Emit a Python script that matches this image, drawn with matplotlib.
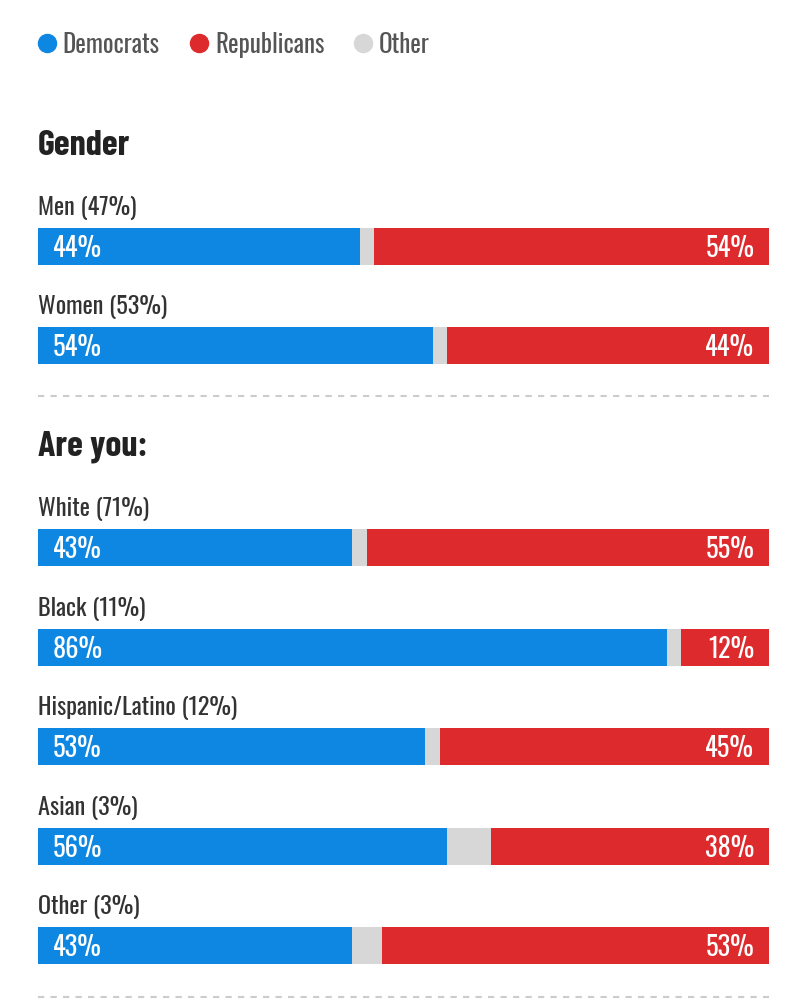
import matplotlib.pyplot as plt
from matplotlib import font_manager

# data
groups = ['Men (47%)', 'Women (53%)', 'White (71%)', 'Black (11%)',
          'Hispanic/Latino (12%)', 'Asian (3%)', 'Other (3%)']
dem = [44, 54, 43, 86, 53, 56, 43]
rep = [54, 44, 55, 12, 45, 38, 53]
other = [100 - d - r for d, r in zip(dem, rep)]
headings = ['Gender', 'Are you:']

blue = '#0d87e2'
red = '#dd2a2c'
grey = '#d7d7d7'

files = [f.fname for f in font_manager.fontManager.ttflist]


def pick(cands):
    for c in cands:
        for f in files:
            if f.split('/')[-1].lower().startswith(c.lower()):
                return font_manager.FontProperties(fname=f)
    return font_manager.FontProperties(family='DejaVu Sans', stretch='condensed')


reg = pick(['Oswald-Regular', 'Oswald[', 'Oswald', 'BarlowCondensed-Regular'])
light = pick(['Oswald-Light', 'Oswald[', 'Oswald', 'BarlowCondensed-Light'])
bold = pick(['Oswald-SemiBold', 'Oswald-Bold', 'BarlowCondensed-Bold', 'RobotoCondensed-Bold'])

fig = plt.figure(figsize=(8.04, 10), dpi=100)
ax = fig.add_axes([38 / 804, 0, 731 / 804, 1])
ax.set_xlim(0, 100)
ax.set_ylim(1000, 0)
ax.axis('off')

# legend
leg = [('Democrats', blue), ('Republicans', red), ('Other', grey)]
lx = [1.2, 22.0, 44.4]
for (name, c), x in zip(leg, lx):
    ax.plot(x, 43, 'o', ms=13, color=c, clip_on=False)
    ax.text(x + 2.2, 45, name, fontproperties=light, fontsize=18, color='#555555', va='center', ha='left')

bar_h = 37
row_top = [228, 327, 529, 629, 728, 828, 927]
head_y = [146, 447]
for name, y in zip(headings, head_y):
    ax.text(0, y, name, fontproperties=bold, fontsize=26, color='#222222', va='center', ha='left')

for i in range(len(groups)):
    yc = row_top[i] + bar_h / 2
    ax.barh(yc, dem[i], height=bar_h, left=0, color=blue)
    ax.barh(yc, other[i], height=bar_h, left=dem[i], color=grey)
    ax.barh(yc, rep[i], height=bar_h, left=dem[i] + other[i], color=red)
    ax.text(0, row_top[i] - 20, groups[i], fontproperties=light, fontsize=17.5, color='#333333', va='center', ha='left')
    ax.text(2.0, yc + 2, f'{dem[i]}%', fontproperties=reg, fontsize=19, color='white', va='center', ha='left')
    ax.text(98.0, yc + 2, f'{rep[i]}%', fontproperties=reg, fontsize=19, color='white', va='center', ha='right')

for y in [396, 997]:
    ax.plot([0, 100], [y, y], color='#cccccc', lw=1.5, ls=(0, (3, 3)), clip_on=False)

fig.savefig('out.png', dpi=100, facecolor='white')
